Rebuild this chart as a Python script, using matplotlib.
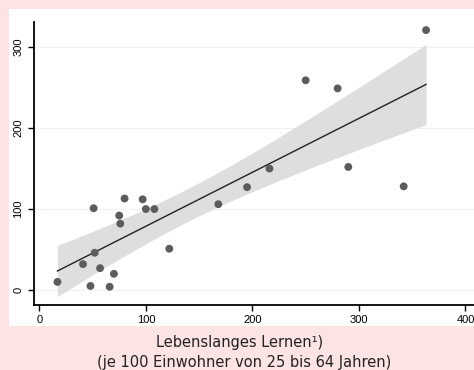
import numpy as np
import matplotlib
matplotlib.use("Agg")
import matplotlib.pyplot as plt
from matplotlib.patches import Rectangle

# Data
x_vals = [17, 51, 41, 48, 52, 57, 66, 70, 75, 76, 80, 97, 100, 108, 122,
          168, 195, 216, 250, 280, 290, 342, 363]
y_vals = [10, 101, 32, 5, 46, 27, 4, 20, 92, 82, 113, 112, 100, 100, 51,
          106, 127, 150, 259, 249, 152, 128, 321]
x_ticks = [0, 100, 200, 300, 400]
y_ticks = [0, 100, 200, 300]
xlabel_line1 = "Lebenslanges Lernen\u00b9)"
xlabel_line2 = "(je 100 Einwohner von 25 bis 64 Jahren)"

W, H = 474, 370
fig = plt.figure(figsize=(W / 100, H / 100), dpi=100)
fig.patch.set_facecolor("#fde4e4")
# white panel
fig.patches.append(Rectangle((9 / W, (H - 326) / H), (W - 9) / W, (326 - 9) / H,
                             transform=fig.transFigure, facecolor="white",
                             edgecolor="none", zorder=-5))

ax = fig.add_axes([34 / W, (H - 305) / H, (W - 34) / W, (305 - 22) / H])
ax.set_facecolor("none")
ax.set_zorder(2)

x = np.array(x_vals, float)
y = np.array(y_vals, float)
n = len(x)
b1, b0 = np.polyfit(x, y, 1)
xs = np.linspace(x.min(), x.max(), 200)
yhat = b0 + b1 * xs
resid = y - (b0 + b1 * x)
s = np.sqrt(np.sum(resid ** 2) / (n - 2))
tcrit = 2.080  # t(0.975, 21)
se = s * np.sqrt(1 / n + (xs - x.mean()) ** 2 / np.sum((x - x.mean()) ** 2))
ax.fill_between(xs, yhat - tcrit * se, yhat + tcrit * se, color="#dedede",
                linewidth=0, zorder=2)
ax.plot(xs, yhat, color="#222222", linewidth=1.0, zorder=3)
ax.scatter(x, y, s=32, color="#5c5c5c", edgecolors="none", zorder=4)

ax.set_xlim(-5, 408)
ax.set_ylim(-18.5, 331)
ax.set_xticks(x_ticks)
ax.set_yticks(y_ticks)
for t in y_ticks:
    ax.axhline(t, color="#f6eeee", linewidth=0.8, zorder=1)

for side in ["top", "right"]:
    ax.spines[side].set_visible(False)
for side in ["left", "bottom"]:
    ax.spines[side].set_color("black")
    ax.spines[side].set_linewidth(1.3)
ax.tick_params(axis="both", direction="out", length=4, width=1.0,
               labelsize=8, colors="black")
ax.set_xticklabels([str(t) for t in x_ticks], family="Liberation Sans")
ax.set_yticklabels([str(t) for t in y_ticks], family="Liberation Sans",
                   rotation=90, va="center")

fig.text(240 / W, 1 - 343 / H, xlabel_line1, ha="center", va="center",
         fontsize=10.5, family="DejaVu Sans", color="#222222")
fig.text(244 / W, 1 - 362 / H, xlabel_line2, ha="center", va="center",
         fontsize=10.5, family="DejaVu Sans", color="#222222")

fig.savefig("out.png", dpi=100, facecolor=fig.get_facecolor())
